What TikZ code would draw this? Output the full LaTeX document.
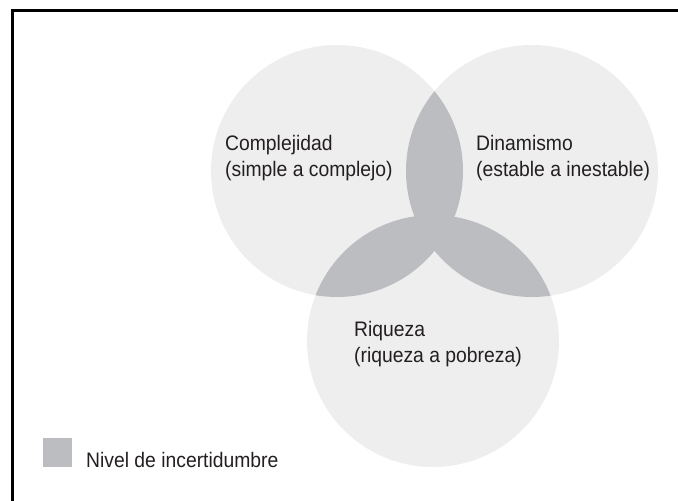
\documentclass[tikz,border=0pt]{standalone}
\usepackage{fontspec}
\setmainfont{Liberation Sans}[FakeStretch=0.92]
\definecolor{circlegray}{HTML}{EEEEEE}
\definecolor{overlapgray}{HTML}{BCBDC1}
\definecolor{inkgray}{HTML}{231F20}
\newcommand{\venfont}{\fontsize{21pt}{26.5pt}\selectfont}
\begin{document}
\begin{tikzpicture}[x=1pt, y=-1pt]
	\tikzstyle{circ}      = [fill=circlegray, draw=none]
	\tikzstyle{overlap}   = [fill=overlapgray, draw=none]
	\tikzstyle{venntext}  = [anchor=base west, align=left, inner sep=0pt, text=inkgray, font=\venfont]
	\tikzstyle{legendbox} = [rectangle, minimum size=29pt, inner sep=0pt, fill=overlapgray]

	\useasboundingbox (0,0) rectangle (678,501);

	% frame (only left and top edges show)
	\coordinate (frameBL) at (12,501);
	\coordinate (frameTL) at (12,10.5);
	\coordinate (frameTR) at (678,10.5);
	\draw[line width=3pt, line join=miter] (frameBL) -- (frameTL) -- (frameTR);

	\foreach \name/\x/\y in {comp/337/171, dina/532/171, riq/433/341}
		\coordinate (\name) at (\x, \y);

	\foreach \name in {comp, dina, riq}
		\fill[circ] (\name) circle (126pt);

	% pairwise overlaps, all in one shade
	\foreach \a/\b in {comp/dina, comp/riq, dina/riq}{
		\begin{scope}
			\clip (\a) circle (126pt);
			\fill[overlap] (\b) circle (126pt);
		\end{scope}
	}

	% base anchor sits on the last line
	\node[venntext] (compText) at (225, 176.5) {Complejidad\\(simple a complejo)};
	\node[venntext] (dinaText) at (476, 176.5) {Dinamismo\\(estable a inestable)};
	\node[venntext] (riqText)  at (354, 362.5) {Riqueza\\(riqueza a pobreza)};

	\node[legendbox] (legBox) at (57.5, 452.5) {};
	\node[venntext] (legText) at (86, 467) {Nivel de incertidumbre};

\end{tikzpicture}
\end{document}
